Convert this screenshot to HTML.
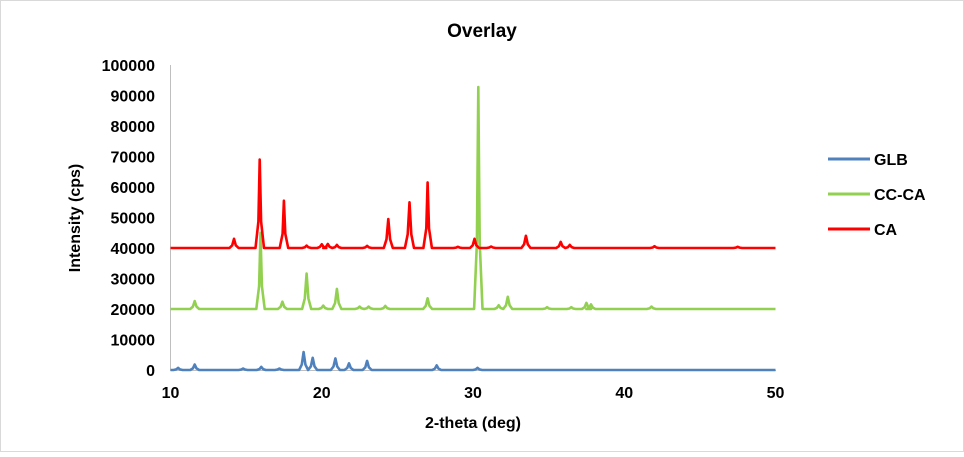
<!DOCTYPE html>
<html><head><meta charset="utf-8">
<style>
body{margin:0;background:#fff;}
svg text{font-family:"Liberation Sans",Arial,sans-serif;font-weight:bold;fill:#000;}
</style></head>
<body>
<svg id="chart" width="964" height="452" viewBox="0 0 964 452" xmlns="http://www.w3.org/2000/svg">
<rect x="0.5" y="0.5" width="963" height="451" fill="#fff" stroke="#d9d9d9"/>
<text x="482" y="37" font-size="19" text-anchor="middle">Overlay</text>
<g id="yticks"></g>
<g id="xticks"></g>
<line x1="170.5" y1="65" x2="170.5" y2="370" stroke="#bfbfbf" stroke-width="1"/>
<line x1="170" y1="370.5" x2="776" y2="370.5" stroke="#bfbfbf" stroke-width="1"/>
<g id="series"></g>
<text transform="translate(80,218) rotate(-90)" font-size="16" text-anchor="middle">Intensity (cps)</text>
<text x="473" y="428" font-size="16" text-anchor="middle">2-theta (deg)</text>
<g>
 <g><line x1="828" y1="159" x2="870" y2="159" stroke="#4f81bd" stroke-width="3"/><text x="874" y="165" font-size="16">GLB</text></g>
 <g><line x1="828" y1="194" x2="870" y2="194" stroke="#92d050" stroke-width="3"/><text x="874" y="200" font-size="16">CC-CA</text></g>
 <g><line x1="828" y1="229" x2="870" y2="229" stroke="#ff0000" stroke-width="3"/><text x="874" y="235" font-size="16">CA</text></g>
</g>
</svg>
<script>
const yTicks=[0,10000,20000,30000,40000,50000,60000,70000,80000,90000,100000];
const xTicks=[10,20,30,40,50];
const glbBase=0;
const glbPeakX=[10.5,11.6,14.8,16.0,17.2,18.8,19.4,20.9,21.8,23.0,27.6,30.3];
const glbPeakY=[700,1800,500,1000,500,5900,4000,3800,2200,3000,1500,700];
const ccBase=20000;
const ccPeakX=[11.6,15.95,17.4,19.0,20.1,21.0,22.5,23.1,24.2,27.0,30.35,31.7,32.3,34.9,36.5,37.5,37.8,41.8];
const ccPeakY=[22600,45000,22400,31600,21100,26600,20800,20800,21000,23500,92800,21200,24000,20600,20600,22000,21500,20800];
const caBase=40000;
const caPeakX=[14.2,15.9,17.5,19.0,20.0,20.4,21.0,23.0,24.4,25.8,27.0,29.0,30.1,31.2,33.5,35.8,36.4,42.0,47.5];
const caPeakY=[43000,69000,55500,40800,41200,41300,41000,40700,49500,55000,61500,40400,43000,40500,44000,42000,41000,40600,40400];

const X=v=>170.5+(v-10)*15.125;
const Y=v=>370-v*0.00305;
const NS="http://www.w3.org/2000/svg";
const yg=document.getElementById('yticks');
yTicks.forEach(t=>{const e=document.createElementNS(NS,'text');


e.setAttribute('x',155);e.setAttribute('y',Y(t)+6);e.setAttribute('font-size','16');e.setAttribute('text-anchor','end');e.textContent=t;yg.appendChild(e);});
const xg=document.getElementById('xticks');
xTicks.forEach(t=>{const e=document.createElementNS(NS,'text');


e.setAttribute('x',X(t));e.setAttribute('y',398);e.setAttribute('font-size','16');e.setAttribute('text-anchor','middle');e.textContent=t;xg.appendChild(e);});
function draw(px,py,base,color,name){
  let pts=[[10,base]];
  for(let i=0;i<px.length;i++){
    const h=py[i]-base;
    const w=h>15000?0.28:0.3;
    const s=h>15000?0.09:0.12;
    pts.push([px[i]-w,base],[px[i]-s,base+h*0.3],[px[i],py[i]],[px[i]+s,base+h*0.3],[px[i]+w,base]);
  }
  pts.push([50,base]);
  const d=pts.map((p,i)=>(i?'L':'M')+X(p[0]).toFixed(1)+' '+Y(p[1]).toFixed(1)).join(' ');
  const p=document.createElementNS(NS,'path');
  
  
  p.setAttribute('d',d);p.setAttribute('fill','none');p.setAttribute('stroke',color);p.setAttribute('stroke-width','2.6');p.setAttribute('stroke-linejoin','round');
  document.getElementById('series').appendChild(p);
}
draw(glbPeakX,glbPeakY,glbBase,'#4f81bd','series-glb');
draw(ccPeakX,ccPeakY,ccBase,'#92d050','series-cc-ca');
draw(caPeakX,caPeakY,caBase,'#ff0000','series-ca');
</script>
</body></html>
